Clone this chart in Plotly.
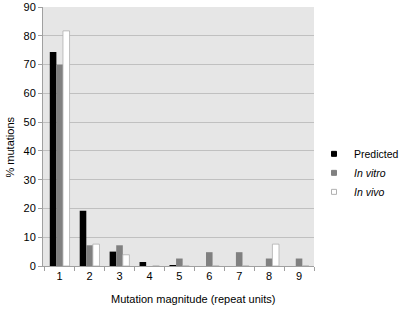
import plotly.graph_objects as go

categories = ["1", "2", "3", "4", "5", "6", "7", "8", "9"]
predicted = [74.4, 19.2, 5.0, 1.4, 0.3, 0, 0, 0, 0]
in_vitro = [69.9, 7.2, 7.2, 0, 2.6, 4.8, 4.8, 2.6, 2.6]
in_vivo = [81.7, 7.6, 3.9, 0, 0, 0, 0, 7.6, 0]
y_ticks = [0, 10, 20, 30, 40, 50, 60, 70, 80, 90]
series_names = ["Predicted", "<i>In vitro</i>", "<i>In vivo</i>"]

font = "Liberation Sans, Arial, sans-serif"
fills = ["#000000", "#808080", "#ffffff"]
edges = ["#000000", "#808080", "#b0b0b0"]
edge_widths = [0, 0, 0.8]

fig = go.Figure()
for vals, name, fc, ec, ew in zip([predicted, in_vitro, in_vivo], series_names, fills, edges, edge_widths):
    fig.add_trace(go.Bar(x=categories, y=vals, name=name, showlegend=False,
                         marker=dict(color=fc, line=dict(color=ec, width=ew))))
for i, (name, fc, ec) in enumerate(zip(series_names, fills, edges)):
    fig.add_trace(go.Scatter(x=[categories[0]], y=[None], name=name, mode="markers",
                             marker=dict(symbol="square", size=5, color=fc,
                                         line=dict(color=ec, width=1))))

fig.update_layout(
    width=400, height=309,
    margin=dict(l=43, r=77, t=7, b=43),
    paper_bgcolor="white",
    plot_bgcolor="#e6e6e6",
    barmode="group",
    bargap=0.34,
    bargroupgap=0,
    font=dict(family=font, size=11, color="#000000"),
    showlegend=True,
    legend=dict(xref="container", yref="container", x=0.785, y=0.549,
                xanchor="left", yanchor="top",
                font=dict(size=10.5), itemwidth=30, tracegroupgap=0,
                bgcolor="rgba(0,0,0,0)"),
    xaxis=dict(
        type="category",
        tickson="boundaries",
        ticks="outside", ticklen=4, tickcolor="#a0a0a0",
        showline=True, linecolor="#a0a0a0", linewidth=1,
        showgrid=False, automargin=False,
        tickfont=dict(size=11),
    ),
    yaxis=dict(
        range=[0, 90],
        tickvals=y_ticks,
        ticks="outside", ticklen=4, tickcolor="#a0a0a0",
        showline=True, linecolor="#a0a0a0", linewidth=1,
        showgrid=True, gridcolor="#c0c0c0", gridwidth=1,
        zeroline=False, automargin=False,
        tickfont=dict(size=11),
    ),
    annotations=[
        dict(text="Mutation magnitude (repeat units)", xref="paper", yref="paper",
             x=0.554, y=-0.127, xanchor="center", yanchor="middle", showarrow=False,
             font=dict(size=11)),
        dict(text="% mutations", xref="paper", yref="paper", textangle=-90,
             x=-0.123, y=0.46, xanchor="center", yanchor="middle", showarrow=False,
             font=dict(size=11)),
    ],
)

fig.write_html("out.html", config={"displayModeBar": False},
               post_script="document.body.style.margin='0';")
